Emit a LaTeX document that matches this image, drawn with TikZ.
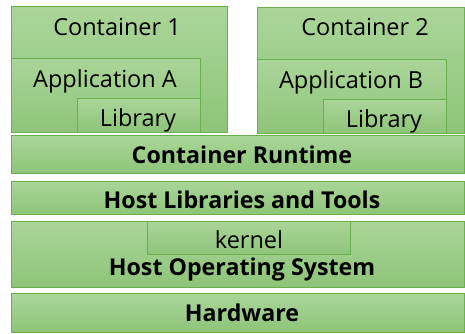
\documentclass[tikz,border=0pt]{standalone}
\usepackage{fontspec}
\setmainfont{Open Sans}
\usepackage{tikz}

\definecolor{boxtop}{RGB}{170,214,153}
\definecolor{boxbot}{RGB}{142,196,121}
\definecolor{boxline}{RGB}{106,176,76}

\begin{document}
\begin{tikzpicture}[x=1pt,y=1pt]
\tikzstyle{every node}+=[inner sep=0pt]
\tikzstyle{layer}=[draw=boxline, line width=1pt, top color=boxtop, bottom color=boxbot]
\tikzstyle{thin}=[font=\fontsize{23.5}{26}\selectfont, anchor=base]
\tikzstyle{thick}=[font=\fontsize{23.2}{26}\selectfont\bfseries, anchor=base]
\useasboundingbox (0,0) rectangle (465,-333);
% containers
\shade [layer] (11,-6) rectangle (227,-132);
\shade [layer] (11,-58) rectangle (200,-132);
\shade [layer] (77,-98) rectangle (200,-132);
\draw (117,-35) node [thin] (cont1) {Container 1};
\draw (105,-87) node [thin] (appA) {Application A};
\draw (138,-126) node [thin] (libA) {Library};
\shade [layer] (257,-7) rectangle (464,-133);
\shade [layer] (257,-59) rectangle (446,-133);
\shade [layer] (323,-99) rectangle (446,-133);
\draw (365,-35) node [thin] (cont2) {Container 2};
\draw (351,-88) node [thin] (appB) {Application B};
\draw (384,-127) node [thin] (libB) {Library};
% host layers
\shade [layer] (11,-135) rectangle (464,-173);
\draw (242,-163) node [thick] (runtime) {Container Runtime};
\shade [layer] (11,-181) rectangle (464,-214);
\draw (242,-208) node [thick] (hostlib) {Host Libraries and Tools};
\shade [layer] (11,-221) rectangle (464,-287);
\shade [layer] (147,-221) rectangle (350,-254);
\draw (249,-248) node [thin] (kernel) {kernel};
\draw (242,-275) node [thick] (hostos) {Host Operating System};
\shade [layer] (11,-293) rectangle (464,-332);
\draw (242,-321) node [thick] (hw) {Hardware};
\end{tikzpicture}
\end{document}
